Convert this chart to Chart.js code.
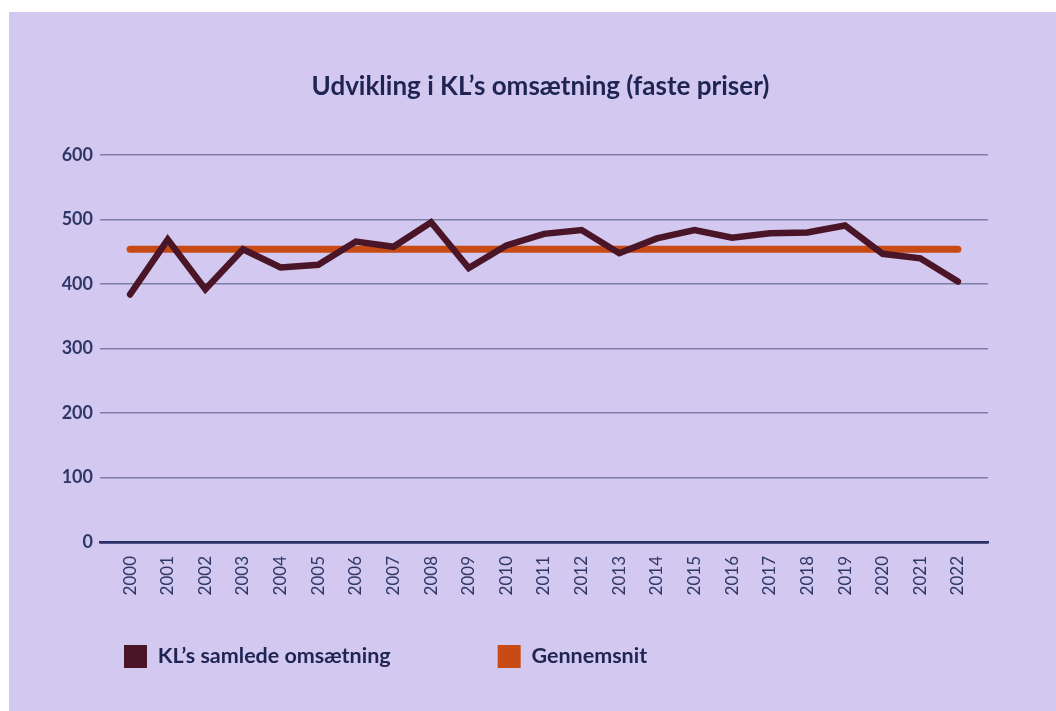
<!DOCTYPE html>
<html>
<head>
<meta charset="utf-8">
<script src="https://cdn.jsdelivr.net/npm/chart.js@4"></script>
<style>
  body { margin: 0; background: #ffffff; }
  #wrap { position: absolute; left: 9px; top: 12px; width: 1047px; height: 699px; background: #d2c8f0; }
</style>
</head>
<body>
<div id="wrap"><canvas id="omsChart" width="1047" height="699"></canvas></div>
<script>
const years = [2000, 2001, 2002, 2003, 2004, 2005, 2006, 2007, 2008, 2009, 2010, 2011,
               2012, 2013, 2014, 2015, 2016, 2017, 2018, 2019, 2020, 2021, 2022];
const omsaetning = [384, 469, 392, 454, 426, 430, 466, 458, 496, 425, 460, 478,
                    484, 448, 471, 484, 472, 479, 480, 491, 447, 440, 404];
const gennemsnit = [454, 454, 454, 454, 454, 454, 454, 454, 454, 454, 454, 454,
                    454, 454, 454, 454, 454, 454, 454, 454, 454, 454, 454];
const yTicks = [0, 100, 200, 300, 400, 500, 600];

const navy = '#1e2553';
const tickColor = '#2f3767';
const legendPad = 107;

// legend row sits under the plot, title centred on the whole panel
const placeBlocks = {
    id: 'placeBlocks',
    afterLayout(chart) {
        chart.legend.left = 115 - legendPad;
        chart.legend.top = 633 - legendPad;
        chart.titleBlock.right = chart.width;
    }
};

const ctx = document.getElementById('omsChart').getContext('2d');

let omsChart = new Chart(ctx, {
    type: 'line',
    data: {
        datasets: [{
            label: 'KL\u2019s samlede omsætning',
            data: years.map((y, i) => ({ x: y, y: omsaetning[i] })),
            borderColor: '#4a1526',
            backgroundColor: '#4a1526',
            borderWidth: 6.5,
            borderCapStyle: 'round',
            pointRadius: 0,
            tension: 0
        }, {
            label: 'Gennemsnit',
            data: years.map((y, i) => ({ x: y, y: gennemsnit[i] })),
            borderColor: '#c84b16',
            backgroundColor: '#c84b16',
            borderWidth: 7,
            borderCapStyle: 'round',
            pointRadius: 0
        }]
    },
    options: {
        responsive: false,
        animation: false,
        layout: { padding: { left: 16, right: 68, top: 0, bottom: 0 } },
        plugins: {
            title: {
                display: true,
                text: 'Udvikling i KL\u2019s omsætning (faste priser)',
                color: navy,
                font: { family: 'Lato', size: 26, weight: 'bold' },
                padding: { top: 59, bottom: 53 }
            },
            legend: {
                position: 'bottom',
                align: 'start',
                maxHeight: 33,
                labels: {
                    color: navy,
                    font: { family: 'Lato', size: 21.5, weight: 'bold' },
                    boxWidth: 23,
                    boxHeight: 23,
                    padding: legendPad,
                    generateLabels: chart =>
                        Chart.defaults.plugins.legend.labels.generateLabels(chart)
                            .map(l => ({ ...l, lineWidth: 0 }))
                }
            },
            tooltip: { enabled: false }
        },
        scales: {
            x: {
                type: 'linear',
                min: 1999.2,
                max: 2022.8,
                afterBuildTicks: scale => { scale.ticks = years.map(v => ({ value: v })); },
                afterFit: scale => { scale.height = 136; },
                grid: { display: false, drawTicks: false },
                border: { display: true, color: '#2a2e66', width: 2.5 },
                ticks: {
                    autoSkip: false,
                    maxRotation: 90,
                    minRotation: 90,
                    padding: 14,
                    color: tickColor,
                    font: { family: 'Lato', size: 17 },
                    callback: v => String(v)
                }
            },
            y: {
                min: 0,
                max: 600,
                afterBuildTicks: scale => { scale.ticks = yTicks.map(v => ({ value: v })); },
                afterFit: scale => { scale.width = 75; },
                border: { display: false },
                grid: {
                    drawTicks: false,
                    color: c => c.tick && c.tick.value === 0 ? '#2a2e66' : '#7c7ea8',
                    lineWidth: c => c.tick && c.tick.value === 0 ? 2.5 : 1.5
                },
                ticks: {
                    padding: 7,
                    color: tickColor,
                    font: { family: 'Lato', size: 18, weight: 'bold' }
                }
            }
        }
    },
    plugins: [placeBlocks]
});
</script>
</body>
</html>
